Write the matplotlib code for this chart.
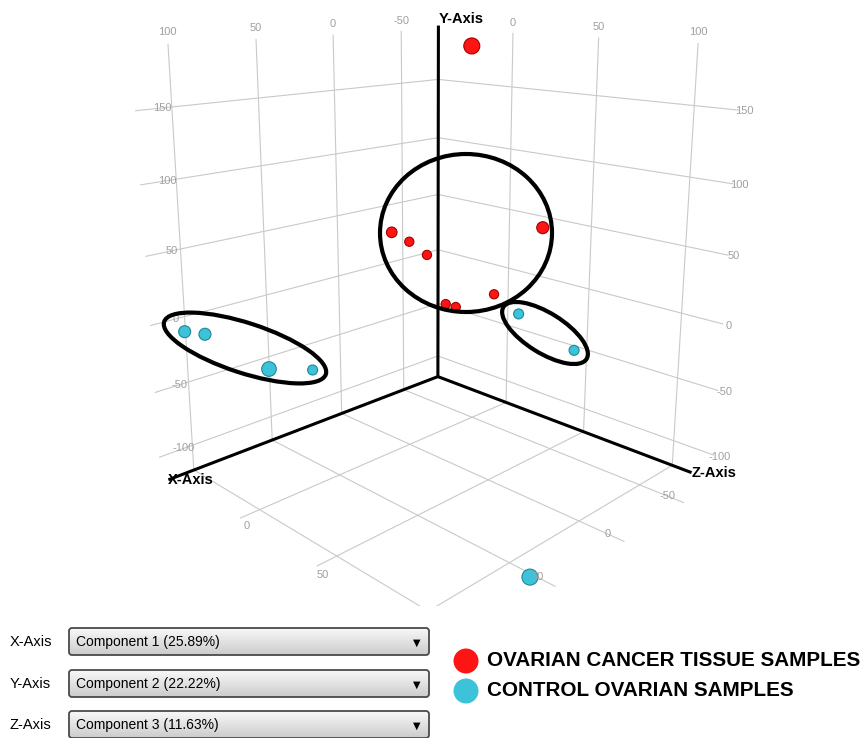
import numpy as np
import matplotlib.pyplot as plt
from matplotlib.patches import Ellipse, FancyBboxPatch, Rectangle

plt.rcParams['font.family'] = ['Liberation Sans', 'DejaVu Sans']

# PCA scores (X = component 1, Y = component 2, Z = component 3)
cancer_x = [35.3, -6.3, 30.3, 8.8, 3.6, 1.2, -2.2, -17.0]
cancer_y = [195.9, 74.2, 64.1, 48.9, 39.6, 5.0, 2.9, 11.9]
cancer_z = [66.2, 72.6, 17.3, 8.4, 14.9, 24.5, 27.8, 38.8]
control_x = [119.5, 113.0, 111.6, 63.0, -13.6, -29.8, 56.3]
control_y = [7.2, 5.5, -0.6, -33.7, 4.7, -20.2, -115.2]
control_z = [-22.3, -16.4, 24.8, -2.7, 55.6, 75.1, 114.6]

x_range = (-80, 115)
y_range = (-120, 195)
z_range = (-50, 110)
x_ticks = [-50, 0, 50, 100]
y_ticks = [-100, -50, 0, 50, 100, 150]
z_ticks = [0, 50, 100]

axis_names = ['X-Axis', 'Y-Axis', 'Z-Axis']
components = ['Component 1 (25.89%)', 'Component 2 (22.22%)', 'Component 3 (11.63%)']
group_names = ['OVARIAN CANCER TISSUE SAMPLES', 'CONTROL OVARIAN SAMPLES']
group_colors = ['#ff1414', '#3dc3d9']
group_edges = ['#a00000', '#1d8797']

W, H = 864, 738
fig = plt.figure(figsize=(W / 100, H / 100), dpi=100)
side = 800
cx, cy = 421, 239
ax = fig.add_axes([(cx - side / 2) / W, (H - cy - side / 2) / H, side / W, side / H],
                  projection='3d', computed_zorder=False)
ax.set_proj_type('persp', focal_length=0.24)
ax.view_init(elev=14, azim=45)
# camera framing: the view box reaches above the drawn walls so the camera looks a bit higher
y_view = (y_range[0], y_range[1] + 60)
ax.set_box_aspect((0.89, 0.84, 1.004 * (y_view[1] - y_view[0]) / (y_range[1] - y_range[0])), zoom=0.944)
ax.set_axis_off()

x0, x1 = x_range
y0, y1 = y_range
z0, z1 = z_range
grid = dict(color='#c9c9c9', lw=0.8, zorder=1)
tick = dict(color='#a0a0a0', fontsize=8, ha='center', va='center', zorder=4)


def seg(p, q, **kw):
    # data order (X, Y, Z) -> matplotlib order (x, y, z) = (X, Z, Y)
    ax.plot([p[0], q[0]], [p[2], q[2]], [p[1], q[1]], **kw)


def label(p, s, **kw):
    ax.text(p[0], p[2], p[1], s, **kw)


# left wall (Z = z0)
for xv in x_ticks:
    seg((xv, y0, z0), (xv, y1 - 3, z0), **grid)
    label((xv, y1 + 5, z0), str(xv), **tick)
for yv in y_ticks:
    seg((x0, yv, z0), (x1 + 4, yv, z0), **grid)
    label((x1 - 10, yv, z0), str(yv), **tick)
# right wall (X = x0)
for zv in z_ticks:
    seg((x0, y0, zv), (x0, y1 - 3, zv), **grid)
    label((x0, y1 + 5, zv), str(zv), **tick)
for yv in y_ticks:
    seg((x0, yv, z0), (x0, yv, z1 + 10), **grid)
    label((x0, yv, z1 + 13), str(yv), **tick)
# floor (Y = y0)
for xv in x_ticks:
    seg((xv, y0, z0), (xv, y0, z1 + 12), **grid)
    label((xv, y0, z1 + 4), str(xv), **tick)
for zv in z_ticks:
    seg((x0, y0, zv), (x1 - 4, y0, zv), **grid)
    label((x1 - 7, y0 - 8, zv), str(zv), **tick)

# main axes
ax_line = dict(color='black', lw=2.2, zorder=2, solid_capstyle='butt')
seg((x0, y0, z0), (x1, y0, z0), **ax_line)
seg((x0, y0, z0), (x0, y1, z0), **ax_line)
seg((x0, y0, z0), (x0, y0, z1), **ax_line)
name = dict(fontsize=10.5, fontweight='bold', zorder=5)
label((x1, y0, z0), axis_names[0], ha='left', va='center', **name)
label((x0, y1, z0), axis_names[1], ha='left', va='bottom', **name)
label((x0, y0, z1), axis_names[2], ha='left', va='center', **name)

ax.set_xlim(x_range, view_margin=0)
ax.set_ylim(z_range, view_margin=0)
ax.set_zlim(y_view, view_margin=0)

# marker size follows the perspective depth (nearer spheres look bigger)
M = ax.get_proj()
w_mid = (M @ np.array([np.mean(x_range), np.mean(z_range), np.mean(y_range), 1.0]))[3]
R0 = 5.2
K = 3.0


def sizes(xs, ys, zs):
    pts = np.column_stack([xs, zs, ys, np.ones(len(xs))])
    w = (M @ pts.T)[3]
    r = R0 * (w_mid / w) ** K
    return (2 * r * 0.72) ** 2


for xs, ys, zs, c, e in [(cancer_x, cancer_y, cancer_z, group_colors[0], group_edges[0]),
                         (control_x, control_y, control_z, group_colors[1], group_edges[1])]:
    ax.scatter(xs, zs, ys, s=sizes(xs, ys, zs), c=c, edgecolors=e, linewidths=0.8,
               depthshade=False, zorder=3)

# overlay in pixel coordinates: hand drawn rings and the control panel
ov = fig.add_axes([0, 0, 1, 1], zorder=5)
ov.axis('off')
ov.patch.set_alpha(0)

for (ex, ey, ew, eh, ea) in [(466, 233, 172, 158, 0), (245, 348, 170, 50, 18), (545, 333, 98, 40, 32)]:
    ov.add_patch(Ellipse((ex, ey), ew, eh, angle=ea, fill=False, ec='black', lw=3))

ov.add_patch(Rectangle((0, 606), W, H - 606, fc='white', ec='none'))
box_tops = [627, 669, 710]
shade = np.linspace(0.97, 0.8, 32)[:, None]
for i, top in enumerate(box_tops):
    box = FancyBboxPatch((69, top + 1), 360, 27, boxstyle='round,pad=0,rounding_size=3',
                         fc='none', ec='#4a4a4a', lw=1.3, zorder=3)
    ov.add_patch(box)
    im = ov.imshow(shade, cmap='gray', vmin=0, vmax=1, extent=(69, 429, top + 28, top + 1),
                   aspect='auto', zorder=2)
    im.set_clip_path(box)
    ov.text(10, top + 15, axis_names[i], fontsize=10.5, va='center', ha='left')
    ov.text(76, top + 15, components[i], fontsize=10, va='center', ha='left', zorder=4)
    ov.text(417, top + 16, '\u25bc', fontsize=7, family='DejaVu Sans', va='center', ha='center', zorder=4)

for i, (nm, c) in enumerate(zip(group_names, group_colors)):
    yy = 661 + 30 * i
    ov.scatter([466], [yy], s=324, c=c, edgecolors='none')
    ov.text(487, yy, nm, fontsize=14.9, fontweight='bold', va='center', ha='left')

ov.set_xlim(0, W)
ov.set_ylim(H, 0)

fig.savefig('out.png', dpi=100)
